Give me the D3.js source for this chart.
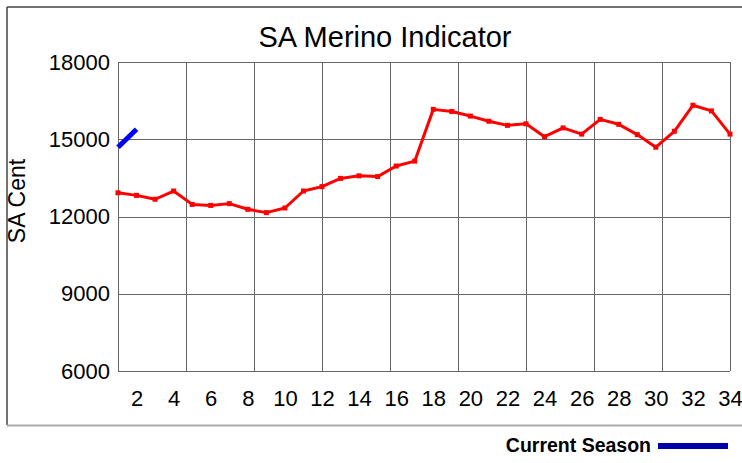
<!DOCTYPE html>
<html>
<head>
<meta charset="utf-8">
<script src="https://cdn.jsdelivr.net/npm/d3@7"></script>
<style>
  body { margin: 0; background: #fff; }
  svg { display: block; font-family: "Liberation Sans", Arial, sans-serif; }
</style>
</head>
<body>
<svg id="chart" width="742" height="463"></svg>
<script>
// data
const weeks = d3.range(1, 35);
const lastSeason = [12920, 12820, 12670, 12990, 12470, 12430, 12500, 12280, 12150, 12330,
    12990, 13160, 13480, 13580, 13550, 13960, 14150, 16160, 16080, 15900,
    15700, 15540, 15600, 15100, 15440, 15200, 15770, 15580, 15180, 14690,
    15310, 16320, 16100, 15200];
const currentSeason = [14690, 15390];
const yTicks = [6000, 9000, 12000, 15000, 18000];
const xTicks = d3.range(2, 35, 2);

const svg = d3.select('#chart');

// outer frame
svg.append('line').attr('x1', 7).attr('y1', 7).attr('x2', 742).attr('y2', 7)
    .attr('stroke', '#444').attr('stroke-width', 1.5);
svg.append('line').attr('x1', 7).attr('y1', 7).attr('x2', 7).attr('y2', 425)
    .attr('stroke', '#444').attr('stroke-width', 1.5);
svg.append('line').attr('x1', 7).attr('y1', 425.5).attr('x2', 742).attr('y2', 425.5)
    .attr('stroke', '#aaa').attr('stroke-width', 2);

const x = d3.scaleLinear().domain([1, 34]).range([118, 730]);
const y = d3.scaleLinear().domain([6000, 18000]).range([371, 62]);

// grid
const grid = svg.append('g').attr('stroke', '#666').attr('stroke-width', 1);
grid.selectAll('.h')
    .data(yTicks)
    .enter().append('line')
    .attr('x1', x(1)).attr('x2', x(34))
    .attr('y1', d => Math.round(y(d)) + 0.5).attr('y2', d => Math.round(y(d)) + 0.5);
grid.selectAll('.v')
    .data(d3.range(0, 10).map(k => 1 + k * 33 / 9))
    .enter().append('line')
    .attr('y1', y(18000)).attr('y2', y(6000))
    .attr('x1', d => Math.round(x(d)) + 0.5).attr('x2', d => Math.round(x(d)) + 0.5);

// axes
const yAxis = d3.axisLeft(y).tickValues(yTicks).tickSize(0).tickPadding(8)
    .tickFormat(d3.format('d'));
svg.append('g').attr('transform', 'translate(118,0)').call(yAxis)
    .call(g => g.select('.domain').remove())
    .selectAll('text').attr('font-size', 22).attr('fill', '#000')
    .attr('font-family', '"Liberation Sans", Arial, sans-serif');

const xAxis = d3.axisBottom(x).tickValues(xTicks).tickSize(0).tickPadding(19);
svg.append('g').attr('transform', 'translate(0,371)').call(xAxis)
    .call(g => g.select('.domain').remove())
    .selectAll('text').attr('font-size', 22).attr('fill', '#000')
    .attr('font-family', '"Liberation Sans", Arial, sans-serif');

// lines
const line = d3.line()
    .x((d, i) => x(weeks[i]))
    .y(d => y(d));

svg.append('path')
    .attr('d', line(lastSeason))
    .attr('fill', 'none')
    .attr('stroke', '#ff0000')
    .attr('stroke-width', 3)
    .attr('stroke-linejoin', 'round');

svg.append('g').selectAll('rect')
    .data(lastSeason)
    .enter().append('rect')
    .attr('x', (d, i) => x(weeks[i]) - 2.5)
    .attr('y', d => y(d) - 2.5)
    .attr('width', 5).attr('height', 5)
    .attr('fill', '#ff0000');

svg.append('path')
    .attr('d', line(currentSeason))
    .attr('fill', 'none')
    .attr('stroke', '#0000ff')
    .attr('stroke-width', 5);

// titles
svg.append('text')
    .attr('x', 385).attr('y', 47)
    .attr('text-anchor', 'middle')
    .attr('font-size', 29)
    .text('SA Merino Indicator');

svg.append('text')
    .attr('transform', 'translate(25,201) rotate(-90)')
    .attr('text-anchor', 'middle')
    .attr('font-size', 23)
    .text('SA Cent');

// legend
svg.append('text')
    .attr('x', 651).attr('y', 452)
    .attr('text-anchor', 'end')
    .attr('font-size', 19.5)
    .attr('font-weight', 'bold')
    .text('Current Season');
svg.append('rect')
    .attr('x', 658).attr('y', 443)
    .attr('width', 70).attr('height', 6)
    .attr('fill', '#0000a8');
</script>
</body>
</html>
